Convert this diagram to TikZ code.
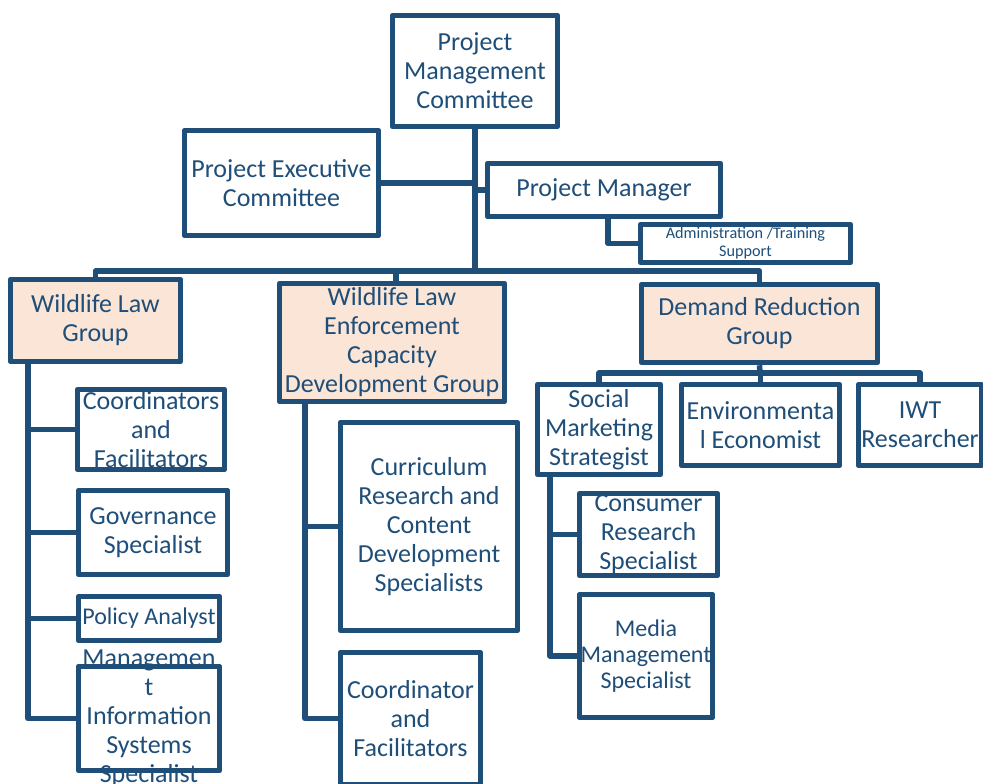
\documentclass[tikz,border=0pt]{standalone}
\usepackage{fontspec}
\setmainfont{Carlito}
\usetikzlibrary{positioning}
\definecolor{navy}{HTML}{1F4E79}
\definecolor{peach}{HTML}{FBE5D6}
\newcommand{\bigtxt}{\fontsize{26}{29}\selectfont}

\begin{document}
\begin{tikzpicture}[x=1pt,y=-1pt,
    box/.style={draw=navy,line width=5.5pt,line join=round,fill=white,
                text=navy,align=center,inner sep=0pt,font=\bigtxt},
    grp/.style={box,fill=peach},
    txt/.style={text=navy,align=center,inner sep=0pt,font=\bigtxt},
    link/.style={draw=navy,line width=5.5pt,line join=round}]

    \useasboundingbox (0,0) rectangle (983,784);

    % top of the chart
    \node[box,minimum width=165,minimum height=111] (pmc) at (475,71) {Project\\Management\\Committee};
    \node[box,minimum width=194,minimum height=105] (pec) at (281.5,183) {Project Executive\\Committee};
    \node[box,minimum width=233,minimum height=53] (pm) at (604,190) {Project Manager};
    \node[box,minimum width=210,minimum height=38,font=\fontsize{16.2}{18}\selectfont] (adm) at (745.5,243.5) {Administration /Training\\Support};

    % groups
    \node[grp,minimum width=170,minimum height=82] (wlg) at (95.5,320.5) {Wildlife Law\\Group};
    \node[grp,minimum width=225,minimum height=118] (wle) at (392,342.5) {Wildlife Law\\Enforcement\\Capacity\\Development Group};
    \node[grp,minimum width=236,minimum height=78] (drg) at (759.5,323.5) {Demand Reduction\\Group};

    % wildlife law group staff
    \node[box,minimum width=147,minimum height=80] (cof) at (151,429.5) {Coordinators\\and\\Facilitators};
    \node[box,minimum width=149,minimum height=84] (gov) at (153,532.5) {Governance\\Specialist};
    \node[box,minimum width=141,minimum height=44,font=\fontsize{24}{26}\selectfont] (pol) at (149,618.5) {Policy Analyst};
    \node[box,minimum width=141,minimum height=104] (mis) at (149,718.5) {};
    \node[txt] (mistxt) at (mis) {Managemen\\t\\Information\\Systems\\Specialist};

    % enforcement group staff
    \node[box,minimum width=177,minimum height=208] (cur) at (429,526.5) {Curriculum\\Research and\\Content\\Development\\Specialists};
    \node[box,minimum width=140,minimum height=132] (cor) at (410.5,718.5) {Coordinator\\and\\Facilitators};

    % demand reduction staff
    \node[box,minimum width=123,minimum height=90] (sms) at (599,429.5) {Social\\Marketing\\Strategist};
    \node[box,minimum width=158,minimum height=81] (env) at (760.5,425) {Environmenta\\l Economist};
    \node[box,minimum width=123,minimum height=81] (iwt) at (920,425) {IWT\\Researcher};
    \node[box,minimum width=138,minimum height=82] (crs) at (648.5,534.5) {Consumer\\Research\\Specialist};
    \node[box,minimum width=133,minimum height=123,font=\fontsize{24}{26}\selectfont] (mms) at (646,656) {Media\\Management\\Specialist};

    % junctions
    \coordinate (bus) at (475,271);
    \coordinate (dbus) at (760,373);
    \coordinate (lt) at (28,0);
    \coordinate (mt) at (305,0);
    \coordinate (rt) at (550,0);

    % connectors
    \draw[link] (pmc.south) -- (bus);
    \draw[link] (pec.east) -- (pec.east -| bus);
    \draw[link] (pm.west) -- (pm.west -| bus);
    \draw[link] ([xshift=4pt]pm.south) |- (adm.west);
    \draw[link] (wlg.north) |- (bus) -| (drg.north);
    \draw[link] ([xshift=4pt]wle.north) -- ([xshift=4pt]wle.north |- bus);

    \draw[link] (wlg.south -| lt) |- (mis.west);
    \draw[link] (lt |- cof.west) -- (cof.west);
    \draw[link] (lt |- gov.west) -- (gov.west);
    \draw[link] (lt |- pol.west) -- (pol.west);

    \draw[link] (wle.south -| mt) |- (cor.west);
    \draw[link] (mt |- cur.west) -- (cur.west);

    \draw[link] (drg.south) -- (dbus);
    \draw[link] (sms.north) |- (dbus) -| (iwt.north);
    \draw[link] (env.north) -- (env.north |- dbus);

    \draw[link] (sms.south -| rt) |- (mms.west);
    \draw[link] (rt |- crs.west) -- (crs.west);
\end{tikzpicture}
\end{document}
